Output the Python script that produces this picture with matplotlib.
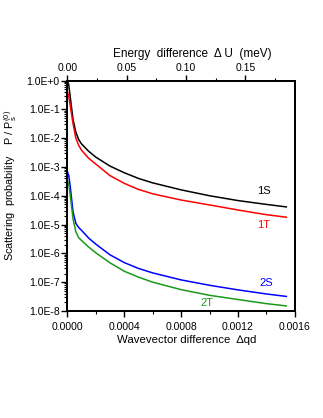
import math
import matplotlib
matplotlib.use("Agg")
import matplotlib.pyplot as plt
from matplotlib.ticker import FixedLocator, FuncFormatter, LogLocator, NullFormatter, MultipleLocator

plt.rcParams['font.family'] = ['Liberation Sans', 'DejaVu Sans']
plt.rcParams['mathtext.fontset'] = 'custom'
plt.rcParams['mathtext.rm'] = 'Liberation Sans'

# wavevector difference (Delta q d)
dqd = [0.0, 0.00001, 0.00002, 0.00004, 0.00006, 0.00008, 0.0001, 0.00015, 0.0002,
       0.0003, 0.0004, 0.0005, 0.0006, 0.0008, 0.001, 0.0012, 0.0014, 0.00154]
p_1s = [1.0, 0.71, 0.28, 4.5e-2, 1.6e-2, 8.9e-3, 6.3e-3, 3.5e-3, 2.2e-3,
        1.07e-3, 6.3e-4, 4.0e-4, 2.8e-4, 1.6e-4, 1.0e-4, 6.8e-5, 5.0e-5, 4.1e-5]
p_1t = [0.42, 0.28, 0.14, 3.2e-2, 1.0e-2, 5.6e-3, 3.8e-3, 2.0e-3, 1.26e-3,
        5.0e-4, 2.7e-4, 1.66e-4, 1.17e-4, 7.1e-5, 4.8e-5, 3.2e-5, 2.2e-5, 1.8e-5]
p_2s = [7.1e-4, 5.0e-4, 2.2e-4, 2.8e-5, 1.1e-5, 7.9e-6, 6.3e-6, 3.4e-6, 2.1e-6,
        8.9e-7, 4.8e-7, 3.0e-7, 2.1e-7, 1.2e-7, 7.8e-8, 5.4e-8, 3.9e-8, 3.2e-8]
p_2t = [3.5e-4, 2.5e-4, 1.1e-4, 1.6e-5, 5.6e-6, 3.5e-6, 2.8e-6, 1.66e-6, 1.05e-6,
        4.7e-7, 2.4e-7, 1.5e-7, 1.0e-7, 5.5e-8, 3.5e-8, 2.5e-8, 1.8e-8, 1.5e-8]

x_max = 0.0016
du_max = 0.1916  # meV at x_max
bottom_ticks = [0.0, 0.0004, 0.0008, 0.0012, 0.0016]
top_ticks = [0.0, 0.05, 0.10, 0.15]

fig = plt.figure(figsize=(3.23, 4.18), dpi=100)
ax = fig.add_axes([0.2084, 0.256, 0.7046, 0.5514])

ax.plot(dqd, p_1s, color='black', lw=1.1)
ax.plot(dqd, p_1t, color='#ff0000', lw=1.1)
ax.plot(dqd, p_2s, color='#0000ff', lw=1.1)
ax.plot(dqd, p_2t, color='#1a9a1a', lw=1.1)

ax.set_yscale('log')
ax.set_ylim(1e-8, 1.0)
ax.set_xlim(0, x_max)

ax.xaxis.set_major_locator(FixedLocator(bottom_ticks))
ax.xaxis.set_minor_locator(MultipleLocator(0.0002))
ax.xaxis.set_major_formatter(FuncFormatter(lambda v, p: f"{v:.4f}"))
ax.yaxis.set_major_locator(LogLocator(base=10, numticks=20))
ax.yaxis.set_minor_locator(LogLocator(base=10, subs=range(2, 10), numticks=20))
ax.yaxis.set_minor_formatter(NullFormatter())


def efmt(v, p):
    e = int(round(math.log10(v)))
    return "1.0E+0" if e == 0 else f"1.0E{e}"


ax.yaxis.set_major_formatter(FuncFormatter(efmt))

ax.tick_params(which='major', direction='out', length=4, width=1.0, labelsize=7.5, pad=1.5)
ax.tick_params(which='minor', direction='out', length=2, width=0.8)
ax.tick_params(axis='x', which='major', pad=4)
ax.tick_params(top=False, right=False)
for s in ax.spines.values():
    s.set_linewidth(1.3)

ax.set_xlabel("Wavevector difference  \u2206qd", fontsize=8.2)
ax.xaxis.set_label_coords(0.525, -0.103)
ax.set_ylabel(r"Scattering  probability    P / P$_\mathrm{s}^{(0)}$", fontsize=7.8)
ax.yaxis.set_label_coords(-0.212, 0.547)

top = ax.twiny()
top.set_xlim(0, du_max)
top.xaxis.set_major_locator(FixedLocator(top_ticks))
top.xaxis.set_minor_locator(MultipleLocator(0.025))
top.xaxis.set_major_formatter(FuncFormatter(lambda v, p: f"{v:.2f}"))
top.tick_params(which='major', direction='out', length=4, width=1.0, labelsize=7.5, pad=1.5)
top.tick_params(which='minor', direction='out', length=2, width=0.8)
top.set_xlabel("Energy  difference  \u0394 U  (meV)", fontsize=8.5)
top.xaxis.set_label_coords(0.549, 1.10)
for s in top.spines.values():
    s.set_linewidth(1.3)

ax.text(0.00138, 1.44e-4, "1S", color='black', fontsize=8, ha='center', va='center')
ax.text(0.00138, 1.0e-5, "1T", color='#ff0000', fontsize=8, ha='center', va='center')
ax.text(0.0014, 9.3e-8, "2S", color='#0000ff', fontsize=8, ha='center', va='center')
ax.text(0.00098, 1.86e-8, "2T", color='#1a9a1a', fontsize=8, ha='center', va='center')

fig.savefig("out.png", dpi=100)
